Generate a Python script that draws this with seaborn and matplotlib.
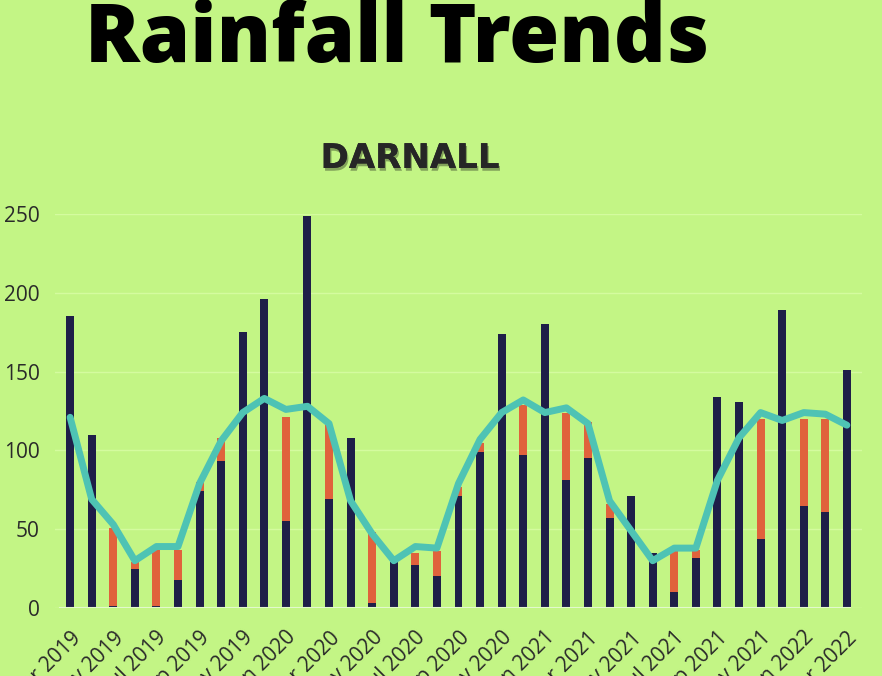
import matplotlib.pyplot as plt
import matplotlib.patheffects as pe
import numpy as np
import pandas as pd
import seaborn as sns

# Monthly rainfall at Darnall, Mar 2019 - Mar 2022
months = ['Mar 2019', 'Apr 2019', 'May 2019', 'Jun 2019', 'Jul 2019', 'Aug 2019',
          'Sep 2019', 'Oct 2019', 'Nov 2019', 'Dec 2019', 'Jan 2020', 'Feb 2020',
          'Mar 2020', 'Apr 2020', 'May 2020', 'Jun 2020', 'Jul 2020', 'Aug 2020',
          'Sep 2020', 'Oct 2020', 'Nov 2020', 'Dec 2020', 'Jan 2021', 'Feb 2021',
          'Mar 2021', 'Apr 2021', 'May 2021', 'Jun 2021', 'Jul 2021', 'Aug 2021',
          'Sep 2021', 'Oct 2021', 'Nov 2021', 'Dec 2021', 'Jan 2022', 'Feb 2022',
          'Mar 2022']
actual = [185, 110, 1, 25, 1, 18, 74, 93, 175, 196, 55, 249,
          69, 108, 3, 29, 27, 20, 71, 99, 174, 97, 180, 81,
          95, 57, 71, 35, 10, 32, 134, 131, 44, 189, 65, 61,
          151]
# top of the orange "shortfall" segment (only where below average)
shortfall_top = [0, 0, 51, 29, 37, 37, 80, 108, 0, 0, 121, 0,
                 116, 0, 48, 0, 35, 36, 77, 105, 0, 129, 0, 124,
                 118, 66, 0, 0, 36, 37, 0, 0, 120, 0, 120, 120,
                 0]
long_term_avg = [121, 69, 53, 30, 39, 39, 79, 106, 124, 133, 126, 128,
                 117, 68, 47, 30, 39, 38, 79, 107, 124, 132, 124, 127,
                 117, 68, 49, 30, 38, 38, 81, 108, 124, 119, 124, 123,
                 116]

bg = '#c3f585'
navy = '#1e1e48'
orange = '#e0623c'
teal = '#4ec3b4'

df = pd.DataFrame({'idx': np.arange(len(months)), 'month': months,
                   'actual': actual, 'shortfall': shortfall_top,
                   'avg': long_term_avg})

fig = plt.figure(figsize=(8.82, 6.76), dpi=100)
fig.patch.set_facecolor(bg)
ax = fig.add_axes([55 / 882, 68 / 676, 807 / 882, 394 / 676])
ax.set_facecolor(bg)

sns.barplot(data=df, x='idx', y='shortfall', color=orange, width=0.37,
            saturation=1, ax=ax)
sns.barplot(data=df, x='idx', y='actual', color=navy, width=0.37,
            saturation=1, ax=ax)
sns.lineplot(data=df, x='idx', y='avg', color=teal, linewidth=5,
             ax=ax, solid_joinstyle='round', solid_capstyle='round')

ax.set_xlim(-0.7, 36.7)
ax.set_ylim(0, 250)
ax.set_yticks([0, 50, 100, 150, 200, 250])
ax.grid(axis='y', color='#d4fb9f', linewidth=1)
ax.set_axisbelow(True)
for s in ax.spines.values():
    s.set_visible(False)
ax.axhline(0, xmin=0.006, xmax=0.985, color='#e2f9cc', linewidth=1.5)

ax.set_xticks(df['idx'][::2])
ax.set_xticklabels(df['month'][::2], rotation=45, ha='right',
                   rotation_mode='anchor', fontsize=15, color='#2a2a2a',
                   family='Open Sans')
ax.tick_params(axis='x', length=0, pad=14)
ax.tick_params(axis='y', length=0, pad=11, labelsize=15, labelcolor='#2a2a2a')
for t in ax.get_yticklabels():
    t.set_family('Open Sans')
ax.set_xlabel('')
ax.set_ylabel('')

title = fig.text(85 / 882, 1 - 62 / 676, 'Rainfall Trends', fontsize=50,
                 fontweight='heavy', family='Open Sans', color='black',
                 ha='left', va='baseline')
# fit the title to the width it has in the reference
renderer = fig.canvas.get_renderer()
w = title.get_window_extent(renderer).width
title.set_fontsize(50 * 625 / w)

fig.text(410 / 882, 1 - 168 / 676, 'DARNALL', fontsize=24.5,
         fontweight='bold', family='DejaVu Sans', color='#262626',
         ha='center', va='baseline',
         path_effects=[pe.withSimplePatchShadow(offset=(1, -2), alpha=0.35),
                       pe.Normal()])

fig.savefig('out.png', dpi=100, facecolor=bg)
